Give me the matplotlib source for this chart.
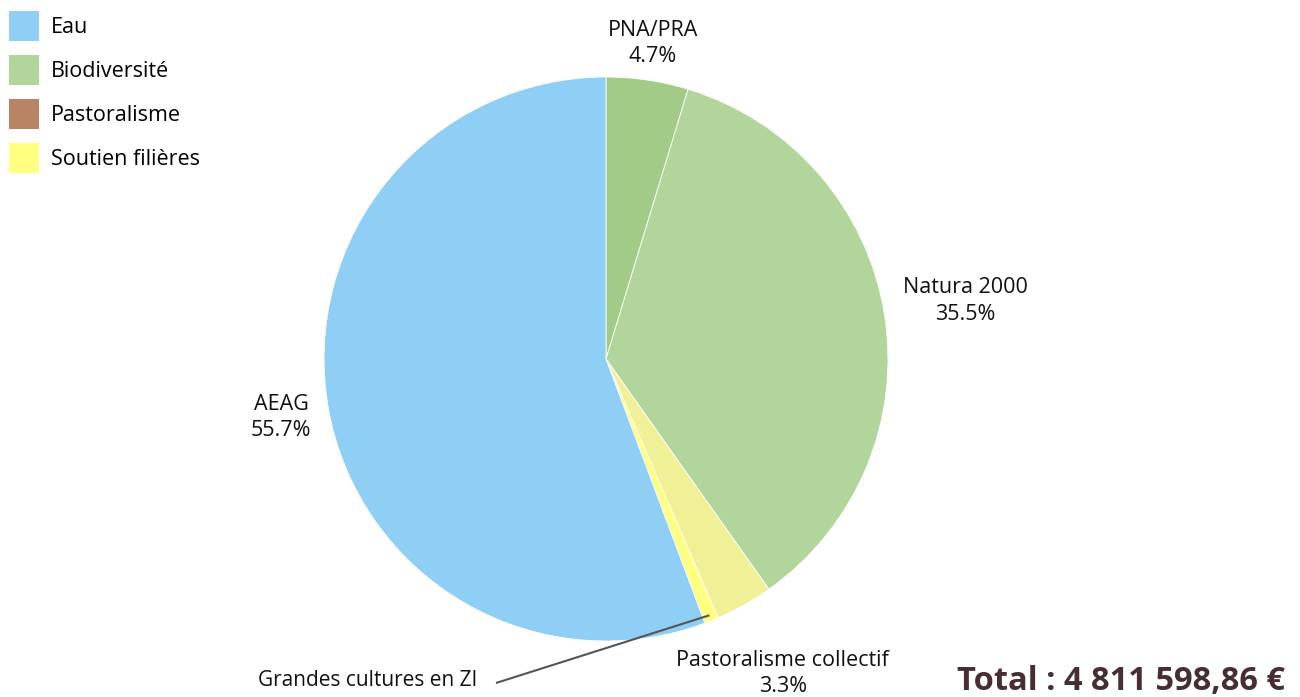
import matplotlib
import numpy as np

matplotlib.use("Agg")
import matplotlib.pyplot as plt
from matplotlib.patches import Patch

# Slices, clockwise from 12 o'clock
labels = ["PNA/PRA", "Natura 2000", "Pastoralisme collectif", "Grandes cultures en ZI", "AEAG"]
shares = [4.7, 35.5, 3.3, 0.8, 55.7]
slice_colors = ["#a1cb86", "#b2d59b", "#f0f096", "#ffff80", "#8fcff5"]
# radial distance of each label, in pie radii (None = leader line)
label_dist = [1.13, 1.29, 1.28, None, 1.17]
show_pct = [True, True, True, False, True]

legend_labels = ["Eau", "Biodiversité", "Pastoralisme", "Soutien filières"]
legend_colors = ["#8fcff5", "#b2d59b", "#b98463", "#ffff80"]

total_text = "Total : 4 811 598,86 €"

W, H = 1300, 697
fig = plt.figure(figsize=(W / 100, H / 100), dpi=100)
ax = fig.add_axes([0, 0, 1, 1])

cx, cy, r = 606, 338, 282
ax.pie(shares, colors=slice_colors, startangle=90, counterclock=False,
       center=(cx, cy), radius=r, frame=True,
       wedgeprops=dict(edgecolor="white", linewidth=0.6))
ax.set_xlim(0, W)
ax.set_ylim(0, H)
ax.set_aspect("equal")
ax.axis("off")

font = ["Open Sans", "DejaVu Sans"]
cum = np.cumsum([0] + shares[:-1])
for lab, s, c0, d, pct in zip(labels, shares, cum, label_dist, show_pct):
    ang = np.radians(90 - (c0 + s / 2) * 3.6)
    if d is None:
        # tiny slice: label below, with a leader line to the wedge
        tip_x = cx + 0.98 * r * np.cos(ang)
        tip_y = cy + 0.98 * r * np.sin(ang)
        ax.text(368, 16, lab, ha="center", va="center", fontsize=15,
                family=font, color="#111111")
        ax.plot([496, tip_x], [14, tip_y], color="#555555", lw=1.5,
                solid_capstyle="butt")
        continue
    x = cx + d * r * np.cos(ang)
    y = cy + d * r * np.sin(ang)
    txt = f"{lab}\n{s:.1f}%" if pct else lab
    ax.text(x, y, txt, ha="center", va="center", fontsize=15.5, family=font,
            color="#111111", linespacing=1.32)

handles = [Patch(facecolor=c, edgecolor="none") for c in legend_colors]
fig.legend(handles, legend_labels, loc="upper left",
           bbox_to_anchor=(9 / W, 1 - 11 / H), frameon=False,
           borderpad=0, borderaxespad=0,
           handlelength=1.4, handleheight=1.75, handletextpad=0.55,
           labelspacing=0.66, prop=dict(family=font, size=15.5))

fig.text(1285 / W, 16 / H, total_text, ha="right", va="center",
         fontsize=23.5, fontweight="bold", color="#472e32", family=font)

fig.savefig("out.png", dpi=100)
